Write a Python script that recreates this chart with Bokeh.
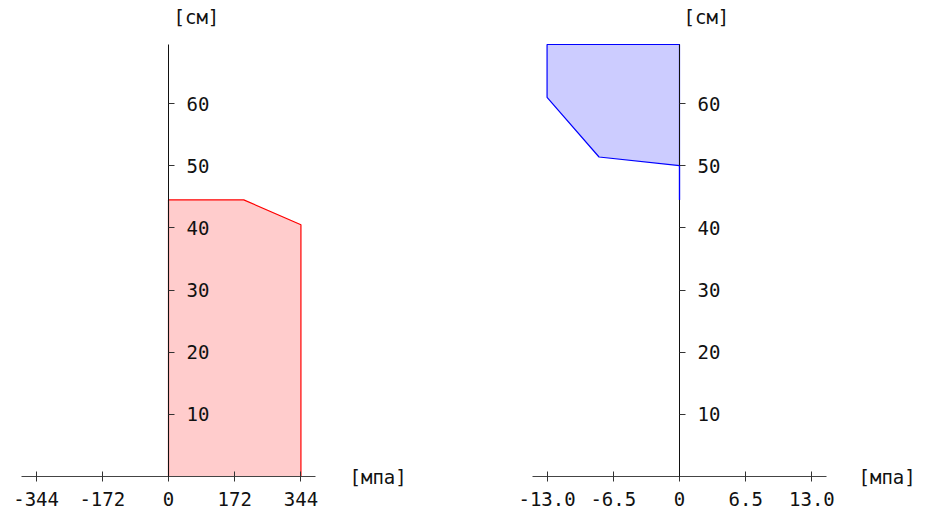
from bokeh.plotting import figure
from bokeh.layouts import row
from bokeh.models import FixedTicker, Range1d, Label
from bokeh.embed import file_html
from bokeh.resources import INLINE

# ---- data ----
steel_x = [0, 344, 344, 195.5, 0]
steel_y = [0, 0, 40.5, 44.5, 44.5]
conc_x = [0, -13, -13, -7.9, 0, 0]
conc_y = [69.5, 69.5, 61.0, 51.4, 50.0, 44.5]

steel_ticks = [-344, -172, 0, 172, 344]
steel_tick_labels = ["-344", "-172", "0", "172", "344"]
conc_ticks = [-13, -6.5, 0, 6.5, 13]
conc_tick_labels = ["-13.0", "-6.5", "0", "6.5", "13.0"]
y_ticks = [10, 20, 30, 40, 50, 60]
y_unit = "[см]"
x_unit = "[мпа]"

FONT = "DejaVu Sans Mono"
FS = "19px"
Y_TOP = 69.5          # top of section / end of y axis
X_PAD = 1.11          # x axis extends 11% beyond the largest tick
PX_PER_CM = 432 / Y_TOP
FRAME_TOP_PX = 4
AXIS_PX = 476
FRAME_H = 507
LEFT_PAD_PX = 21


def make_fig(xmax, xticks, xlabels, frame_w, border_right, fill, line, xs, ys,
             unit_x_px, cm_label_px):
    x_lim = xmax * X_PAD
    px_per_unit = 147.0 / x_lim
    x_start = -x_lim - LEFT_PAD_PX / px_per_unit
    x_end = x_start + frame_w / px_per_unit
    y_end = (AXIS_PX - FRAME_TOP_PX) / PX_PER_CM
    y_start = y_end - FRAME_H / PX_PER_CM
    p = figure(frame_width=frame_w, frame_height=FRAME_H, output_backend="svg",
               toolbar_location=None,
               x_range=Range1d(x_start, x_end), y_range=Range1d(y_start, y_end),
               y_axis_location="right", min_border_left=0, min_border_right=border_right,
               min_border_top=FRAME_TOP_PX, min_border_bottom=0)
    p.outline_line_color = None
    p.grid.visible = False

    p.patch(xs, ys, fill_color=fill, line_color=line, line_width=1.2)

    xa = p.xaxis[0]
    xa.fixed_location = 0
    xa.bounds = (-x_lim, x_lim)
    xa.ticker = FixedTicker(ticks=xticks)
    xa.major_label_overrides = {t: l for t, l in zip(xticks, xlabels)}
    xa.minor_tick_line_color = None
    xa.major_tick_in = 5
    xa.major_tick_out = 5
    xa.major_label_standoff = 10
    xa.axis_line_color = "#444444"
    xa.major_tick_line_color = "#333333"
    xa.major_label_text_font = FONT
    xa.major_label_text_font_size = FS
    xa.major_label_text_color = "#111111"

    ya = p.yaxis[0]
    ya.fixed_location = 0
    ya.bounds = (0, Y_TOP)
    ya.ticker = FixedTicker(ticks=y_ticks)
    ya.minor_tick_line_color = None
    ya.major_tick_in = 0
    ya.major_tick_out = 6
    ya.major_label_standoff = 12
    ya.axis_line_color = "#111111"
    ya.major_tick_line_color = "#333333"
    ya.major_label_text_font = FONT
    ya.major_label_text_font_size = FS
    ya.major_label_text_color = "#111111"

    p.add_layout(Label(x=cm_label_px / px_per_unit, y=(AXIS_PX - 16) / PX_PER_CM, text=y_unit,
                       text_font=FONT, text_font_size=FS, text_align="left",
                       text_baseline="middle", text_color="#111111"))
    p.add_layout(Label(x=unit_x_px / px_per_unit, y=0, text=x_unit,
                       text_font=FONT, text_font_size=FS, text_align="left",
                       text_baseline="middle", text_color="#111111"))
    return p


p1 = make_fig(344, steel_ticks, steel_tick_labels, 466, 45, "#ffcccc", "red",
              steel_x, steel_y, 181, 5)
p2 = make_fig(13, conc_ticks, conc_tick_labels, 421, 0, "#ccccff", "blue",
              conc_x, conc_y, 179, 4)
p2.line(conc_x[-2:], conc_y[-2:], line_color="blue", line_width=1.2, level="overlay")

layout = row(p1, p2)
open("out.html", "w").write(file_html(layout, INLINE))
